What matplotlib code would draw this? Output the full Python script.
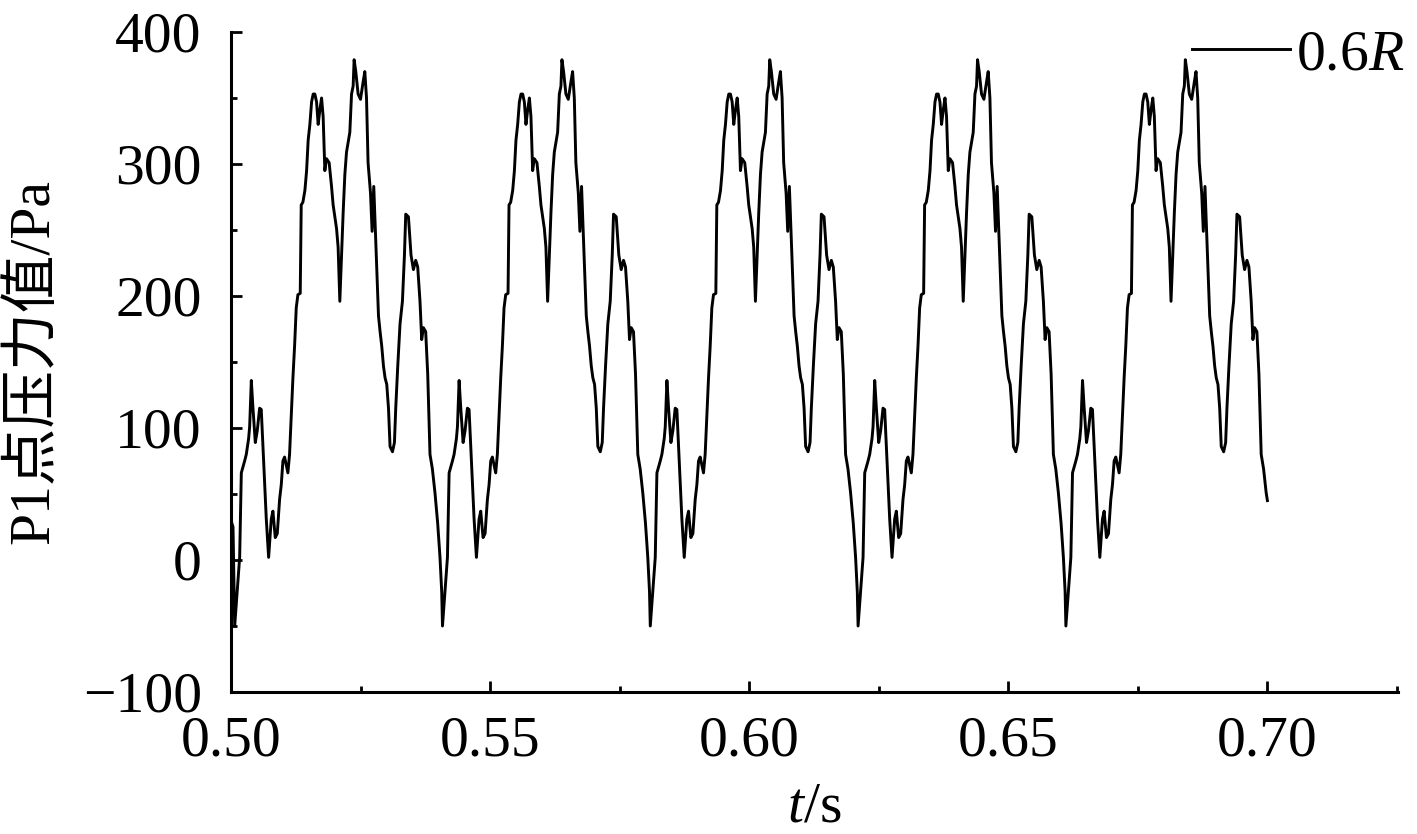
import numpy as np
import matplotlib.pyplot as plt
from matplotlib.ticker import MultipleLocator

plt.rcParams['font.family'] = ['Liberation Serif', 'Noto Sans CJK SC']
plt.rcParams['mathtext.fontset'] = 'custom'
plt.rcParams['mathtext.rm'] = 'Liberation Serif'
plt.rcParams['mathtext.it'] = 'Liberation Serif:italic'

FS = 41.5

# one pressure cycle, starting at the -50 Pa trough
cycle_t = [0.50071, 0.50103, 0.50167, 0.50199, 0.50263, 0.50295, 0.50340, 0.50360, 0.50392, 0.50424,
           0.50469, 0.50507, 0.50552, 0.50584, 0.50617, 0.50649, 0.50681, 0.50726, 0.50777, 0.50809,
           0.50854, 0.50893, 0.50938, 0.50970, 0.51002, 0.51034, 0.51098, 0.51130, 0.51162, 0.51195,
           0.51227, 0.51259, 0.51291, 0.51336, 0.51355, 0.51387, 0.51426, 0.51459, 0.51489, 0.51522,
           0.51555, 0.51586, 0.51618, 0.51651, 0.51682, 0.51715, 0.51748, 0.51778, 0.51811, 0.51843,
           0.51894, 0.51940, 0.51971, 0.52004, 0.52037, 0.52067, 0.52100, 0.52133, 0.52164, 0.52197,
           0.52229, 0.52293, 0.52326, 0.52357, 0.52376, 0.52408, 0.52453, 0.52499, 0.52549, 0.52582,
           0.52615, 0.52645, 0.52692, 0.52723, 0.52755, 0.52813, 0.52846, 0.52877, 0.52909, 0.52942,
           0.52973, 0.53006, 0.53039, 0.53069, 0.53116, 0.53154, 0.53179, 0.53218, 0.53262, 0.53308,
           0.53347, 0.53372, 0.53424, 0.53474, 0.53520, 0.53565, 0.53603, 0.53647, 0.53680, 0.53713,
           0.53757, 0.53796, 0.53840, 0.53886, 0.53936, 0.53988, 0.54033, 0.54066]
cycle_p = [-50, -33, 2, 66, 75, 80, 92, 101, 136, 115,
           89, 98, 115, 114, 86, 60, 31, 2, 31, 37,
           17, 20, 46, 57, 75, 78, 66, 80, 109, 138,
           162, 191, 201, 202, 269, 271, 280, 295, 318, 330,
           347, 353, 353, 347, 330, 341, 350, 336, 295, 304,
           301, 283, 269, 260, 251, 237, 196, 231, 263, 292,
           309, 324, 353, 359, 379, 370, 353, 349, 362, 370,
           350, 301, 278, 249, 283, 220, 185, 173, 162, 147,
           138, 133, 115, 86, 82, 89, 115, 147, 179, 196,
           231, 262, 260, 231, 220, 227, 222, 196, 167, 176,
           173, 141, 80, 69, 51, 28, 2, -24]
period = 0.0401
n_cycles = 5

start_t = [0.5000, 0.50039]
start_p = [30, 25]
end_t = 0.70
end_p = 45

t = list(start_t)
p = list(start_p)
for k in range(n_cycles):
    for ti, pi in zip(cycle_t, cycle_p):
        tk = ti + k * period
        if tk < end_t:
            t.append(tk)
            p.append(pi)
t.append(end_t)
p.append(end_p)

fig = plt.figure(figsize=(14.17, 8.34), dpi=100)
ax = fig.add_axes([231 / 1417, 1 - 692 / 834, (1398 - 231) / 1417, (692 - 32) / 834])

ax.plot(t, p, color='black', lw=2.1, label='0.6$R$')

ax.set_xlim(0.5, 0.7252)
ax.set_ylim(-100, 400)
ax.xaxis.set_major_locator(MultipleLocator(0.05))
ax.xaxis.set_minor_locator(MultipleLocator(0.025))
ax.yaxis.set_major_locator(MultipleLocator(100))
ax.yaxis.set_minor_locator(MultipleLocator(50))
ax.xaxis.set_major_formatter(lambda v, pos: f'{v:.2f}')

for side in ['top', 'right']:
    ax.spines[side].set_visible(False)
for side in ['left', 'bottom']:
    ax.spines[side].set_linewidth(2.2)

ax.tick_params(which='both', direction='in', width=2, labelsize=FS)
ax.tick_params(which='major', length=8)
ax.tick_params(which='minor', length=4.5)
ax.tick_params(axis='x', which='major', pad=17)
ax.tick_params(axis='y', which='major', pad=21)

ax.set_xlabel('$t$/s', fontsize=FS, labelpad=10)
ax.set_ylabel('P1点压力值/Pa', fontsize=FS, labelpad=16)

ax.legend(loc='upper right', bbox_to_anchor=(1404 / 1417, 1 - 29 / 834), bbox_transform=fig.transFigure,
          frameon=False, fontsize=FS, handlelength=1.7, handletextpad=0.1, borderpad=0, borderaxespad=0)

fig.savefig('out.png', dpi=100)
